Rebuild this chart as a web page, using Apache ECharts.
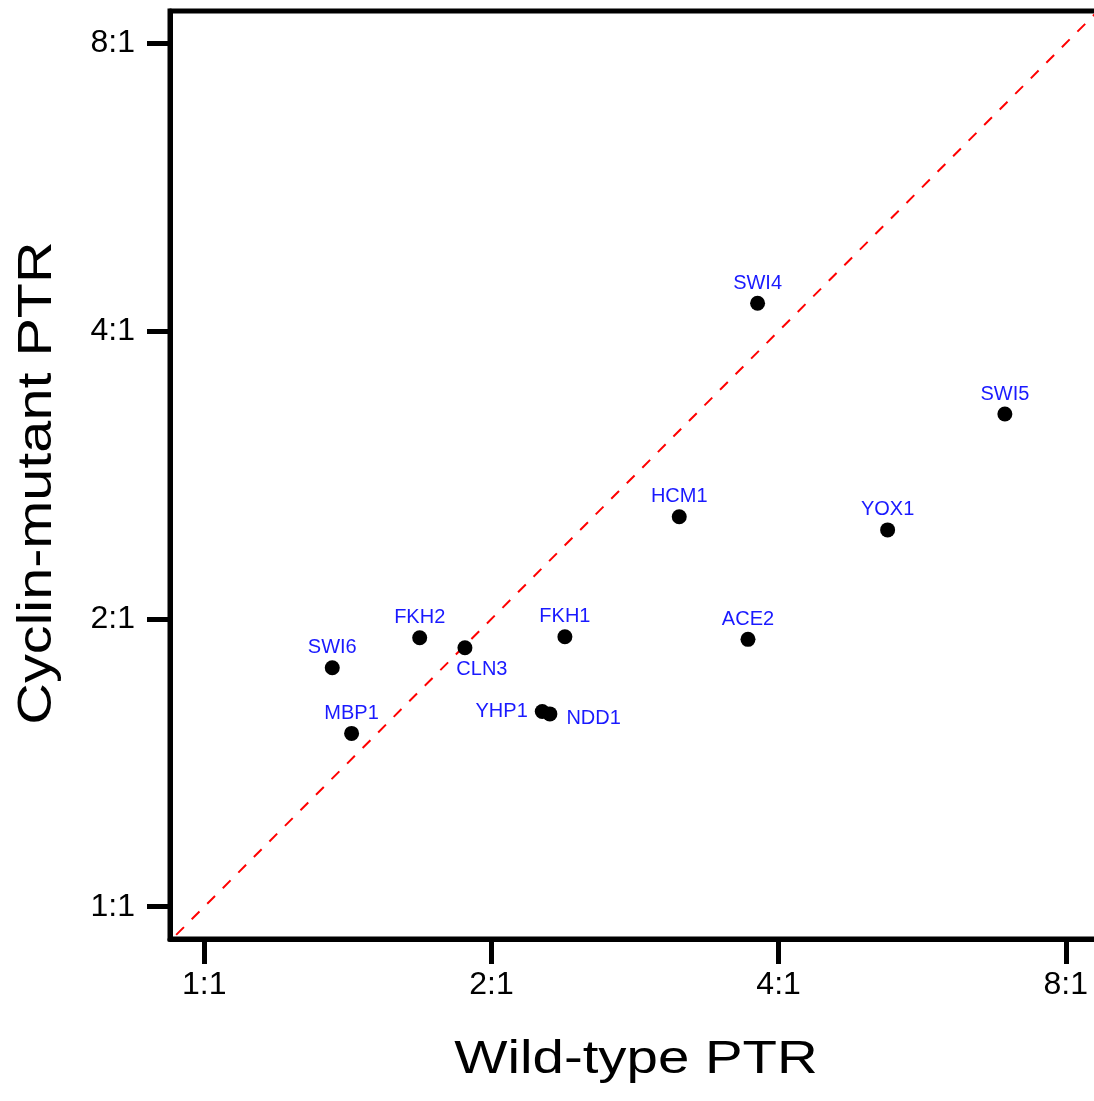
<!DOCTYPE html>
<html>
<head>
<meta charset="utf-8">
<script src="https://cdn.jsdelivr.net/npm/echarts@6/dist/echarts.min.js"></script>
<style>
html,body{margin:0;padding:0;background:#fff;}
#chart{width:1094px;height:1101px;}
</style>
</head>
<body>
<div id="chart"></div>
<script>
// ---- data ----
var genes = ['SWI4','SWI5','HCM1','YOX1','ACE2','FKH1','FKH2','CLN3','SWI6','MBP1','YHP1','NDD1'];
var wildTypePTR = [3.802, 6.906, 3.147, 5.204, 3.715, 2.388, 1.682, 1.876, 1.362, 1.427, 2.261, 2.303];
var cyclinMutantPTR = [4.277, 3.276, 2.558, 2.478, 1.904, 1.916, 1.911, 1.866, 1.778, 1.518, 1.600, 1.591];
var tickValues = [1, 2, 4, 8];
var tickLabels = ['1:1', '2:1', '4:1', '8:1'];
var xRange = [0.9206, 8.647];
var yRange = [0.9252, 8.647];
var diagonal = [[0.9, 0.9], [9, 9]];
var xTitle = 'Wild-type PTR';
var yTitle = 'Cyclin-mutant PTR';

// ---- label placement (style) ----
var labelStyle = {
  CLN3: {position: 'bottom', distance: 4.5, dx: 17, dy: 0},
  YHP1: {position: 'left', distance: 7, dx: 0, dy: 0},
  NDD1: {position: 'right', distance: 9, dx: 0, dy: 5}
};

var pts = genes.map(function (g, i) {
  var ls = labelStyle[g] || {position: 'top', distance: 2.5};
  return {
    name: g,
    value: [wildTypePTR[i], cyclinMutantPTR[i]],
    label: {show: true, formatter: '{b}', position: ls.position, distance: ls.distance}
  };
});

function fmt(v) {
  var idx = tickValues.indexOf(Math.round(v));
  return idx >= 0 ? tickLabels[idx] : '';
}

var font = '"Liberation Sans", Arial, Helvetica, sans-serif';
var chart = echarts.init(document.getElementById('chart'), null, {renderer: 'canvas'});
chart.setOption({
  animation: false,
  backgroundColor: '#fff',
  grid: {left: 170, top: 11, bottom: 162, right: -4, outerBoundsMode: 'none', containLabel: false,
         show: true, borderColor: '#000', borderWidth: 5, backgroundColor: 'transparent'},
  xAxis: {
    type: 'log', logBase: 2, min: xRange[0], max: xRange[1],
    axisLine: {show: true, lineStyle: {color: '#000', width: 5}},
    axisTick: {show: true, length: 25, lineStyle: {color: '#000', width: 5}, customValues: tickValues},
    axisLabel: {show: true, fontSize: 32, color: '#000', fontFamily: font, margin: 30, customValues: tickValues, formatter: fmt},
    splitLine: {show: false}, minorTick: {show: false}
  },
  yAxis: {
    type: 'log', logBase: 2, min: yRange[0], max: yRange[1],
    axisLine: {show: true, lineStyle: {color: '#000', width: 5}},
    axisTick: {show: true, length: 23, lineStyle: {color: '#000', width: 5}, customValues: tickValues},
    axisLabel: {show: true, fontSize: 32, color: '#000', fontFamily: font, margin: 35, customValues: tickValues, formatter: fmt},
    splitLine: {show: false}, minorTick: {show: false}
  },
  graphic: [
    {type: 'text', x: 636, y: 1060.5, scaleX: 1.2, scaleY: 1,
     style: {text: xTitle, font: '47px ' + font, fill: '#000', textAlign: 'center', textVerticalAlign: 'middle'}},
    {type: 'text', x: 37.5, y: 483, rotation: Math.PI / 2, scaleX: 1.2, scaleY: 1,
     style: {text: yTitle, font: '48px ' + font, fill: '#000', textAlign: 'center', textVerticalAlign: 'middle'}}
  ],
  series: [
    {
      type: 'line', data: diagonal, symbol: 'none', silent: true, clip: true,
      lineStyle: {color: '#ff0000', width: 2, type: [11, 11]}, z: 1
    },
    {
      type: 'scatter', data: pts, symbol: 'circle', symbolSize: 15,
      itemStyle: {color: '#000', opacity: 1},
      label: {color: '#1a1aff', fontSize: 20, fontFamily: font},
      labelLayout: function (p) {
        var ls = labelStyle[genes[p.dataIndex]];
        return {hideOverlap: false, dx: ls ? ls.dx : 0, dy: ls ? ls.dy : 0};
      },
      z: 3
    }
  ]
});
</script>
</body>
</html>
